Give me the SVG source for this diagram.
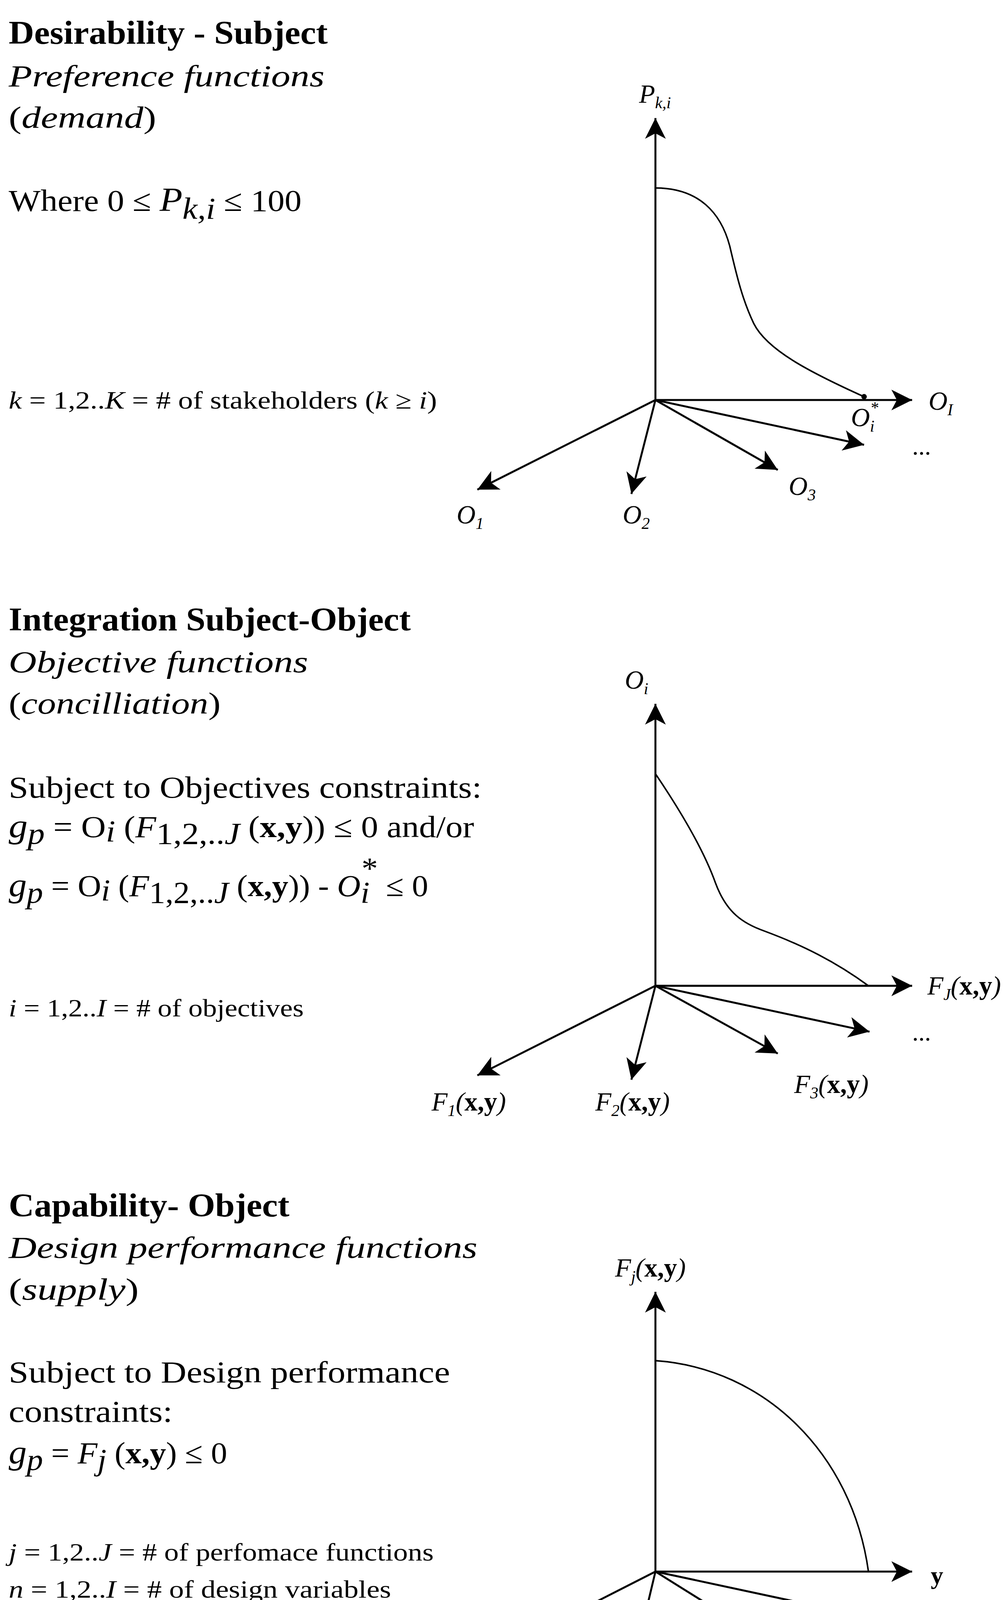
<svg xmlns="http://www.w3.org/2000/svg" width="2574" height="4386" viewBox="0 0 2574 4386">
<style>
text{font-family:"Liberation Serif","Times New Roman",serif;fill:#000}
.t{font-weight:bold;font-size:30px}
.m{font-size:28px}
.s{font-size:23px}
.l{font-size:24px;font-style:italic}
.i{font-style:italic}
.b{font-weight:bold;font-style:normal}
.ax{stroke:#000;stroke-width:1.8;fill:none;marker-end:url(#ah)}
.cv{stroke:#000;stroke-width:1.4;fill:none}
</style>
<defs>
<marker id="ah" markerWidth="22" markerHeight="22" viewBox="-20 -11 22 22" refX="0" refY="0" orient="auto" markerUnits="userSpaceOnUse">
<path d="M0,0 L-19,-9.5 L-14,0 L-19,9.5 z" fill="#000"/>
</marker>
</defs>
<rect width="2574" height="4386" fill="#fff"/>
<g transform="scale(2.7978)">
<g id="text1">
<text class="t" x="8" y="40" textLength="292" lengthAdjust="spacingAndGlyphs">Desirability - Subject</text>
<text class="m i" x="8" y="79" textLength="289" lengthAdjust="spacingAndGlyphs">Preference functions</text>
<text class="m" x="8" y="117" textLength="135" lengthAdjust="spacingAndGlyphs">(<tspan class="i">demand</tspan>)</text>
<text class="m" x="8" y="193" textLength="268" lengthAdjust="spacingAndGlyphs">Where 0 ≤ <tspan class="i" font-size="31">P</tspan><tspan class="i" dy="7">k,i</tspan><tspan dy="-7"> ≤ 100</tspan></text>
<text class="s" x="8" y="374" textLength="392" lengthAdjust="spacingAndGlyphs"><tspan class="i">k</tspan> = 1,2..<tspan class="i">K</tspan> = # of stakeholders (<tspan class="i">k</tspan> ≥ <tspan class="i">i</tspan>)</text>
</g>
<g id="graph1">
<path class="cv" d="M600,172 C640,172 660,195 668,225 C675,255 680,275 690,296 C702,320 740,340 791,363"/>
<circle cx="791" cy="363" r="2.5"/>
<text class="l" x="585" y="94">P<tspan font-size="15" dy="5">k,i</tspan></text>
<text class="l" x="850" y="375">O<tspan font-size="15" dy="5">I</tspan></text>
<text class="l" x="779" y="390">O<tspan font-size="15" dy="5">i</tspan><tspan font-size="15" dx="-4" dy="-17">*</tspan></text>
<text class="s" x="835" y="416">...</text>
<text class="l" x="722" y="453">O<tspan font-size="15" dy="5">3</tspan></text>
<text class="l" x="570" y="479">O<tspan font-size="15" dy="5">2</tspan></text>
<text class="l" x="418" y="479">O<tspan font-size="15" dy="5">1</tspan></text>
</g>
<g id="text2">
<text class="t" x="8" y="577" textLength="368" lengthAdjust="spacingAndGlyphs">Integration Subject-Object</text>
<text class="m i" x="8" y="615" textLength="274" lengthAdjust="spacingAndGlyphs">Objective functions</text>
<text class="m" x="8" y="653" textLength="194" lengthAdjust="spacingAndGlyphs">(<tspan class="i">concilliation</tspan>)</text>
<text class="m" x="8" y="730" textLength="433" lengthAdjust="spacingAndGlyphs">Subject to Objectives constraints:</text>
<text class="m" x="8" y="766" textLength="426" lengthAdjust="spacingAndGlyphs"><tspan class="i" font-size="31">g</tspan><tspan class="i" dy="6">p</tspan><tspan dy="-6"> = O</tspan><tspan class="i" dy="4">i</tspan><tspan dy="-4"> (</tspan><tspan class="i">F</tspan><tspan dy="6">1,2,..</tspan><tspan class="i">J</tspan><tspan dy="-6"> (</tspan><tspan font-weight="bold">x,y</tspan>))  ≤ 0 and/or</text>
<text class="m" x="8" y="820" textLength="384" lengthAdjust="spacingAndGlyphs"><tspan class="i" font-size="31">g</tspan><tspan class="i" dy="6">p</tspan><tspan dy="-6"> = O</tspan><tspan class="i" dy="4">i</tspan><tspan dy="-4"> (</tspan><tspan class="i">F</tspan><tspan dy="6">1,2,..</tspan><tspan class="i">J</tspan><tspan dy="-6"> (</tspan><tspan font-weight="bold">x,y</tspan>)) - <tspan class="i">O</tspan><tspan class="i" dy="6">i</tspan><tspan dx="-7" dy="-22">*</tspan><tspan dy="16"> ≤ 0</tspan></text>
<text class="s" x="8" y="930" textLength="270" lengthAdjust="spacingAndGlyphs"><tspan class="i">i</tspan> = 1,2..<tspan class="i">I</tspan> = # of objectives</text>
</g>
<g id="graph2">
<path class="cv" d="M600,708 C625,745 645,780 655,808 C665,835 680,845 700,852 C735,865 765,880 795,902"/>
<text class="l" x="572" y="630">O<tspan font-size="15" dy="5">i</tspan></text>
<text class="l" x="849" y="910">F<tspan font-size="15" dy="5">J</tspan><tspan dy="-5">(<tspan class="b">x,y</tspan>)</tspan></text>
<text class="s" x="835" y="952">...</text>
<text class="l" x="727" y="1000">F<tspan font-size="15" dy="5">3</tspan><tspan dy="-5">(<tspan class="b">x,y</tspan>)</tspan></text>
<text class="l" x="545" y="1016">F<tspan font-size="15" dy="5">2</tspan><tspan dy="-5">(<tspan class="b">x,y</tspan>)</tspan></text>
<text class="l" x="395" y="1016">F<tspan font-size="15" dy="5">1</tspan><tspan dy="-5">(<tspan class="b">x,y</tspan>)</tspan></text>
</g>
<g id="text3">
<text class="t" x="8" y="1113" textLength="257" lengthAdjust="spacingAndGlyphs">Capability- Object</text>
<text class="m i" x="8" y="1151" textLength="429" lengthAdjust="spacingAndGlyphs">Design performance functions</text>
<text class="m" x="8" y="1189" textLength="119" lengthAdjust="spacingAndGlyphs">(<tspan class="i">supply</tspan>)</text>
<text class="m" x="8" y="1265" textLength="404" lengthAdjust="spacingAndGlyphs">Subject to Design performance</text>
<text class="m" x="8" y="1301" textLength="150" lengthAdjust="spacingAndGlyphs">constraints:</text>
<text class="m" x="8" y="1339" textLength="200" lengthAdjust="spacingAndGlyphs"><tspan class="i" font-size="31">g</tspan><tspan class="i" dy="6">p</tspan><tspan dy="-6"> = </tspan><tspan class="i">F</tspan><tspan class="i" dy="6">j</tspan><tspan dy="-6"> (</tspan><tspan font-weight="bold">x,y</tspan>) ≤ 0</text>
<text class="s" x="8" y="1428" textLength="389" lengthAdjust="spacingAndGlyphs"><tspan class="i">j</tspan> = 1,2..<tspan class="i">J</tspan> = # of perfomace functions</text>
<text class="s" x="8" y="1462" textLength="350" lengthAdjust="spacingAndGlyphs"><tspan class="i">n</tspan> = 1,2..<tspan class="i">I</tspan> = # of design variables</text>
</g>
<g id="graph3">
<path class="cv" d="M600,1245 C700,1252 780,1330 795,1438"/>
<text class="l" x="563" y="1168">F<tspan font-size="15" dy="5">j</tspan><tspan dy="-5">(<tspan class="b">x,y</tspan>)</tspan></text>
<text class="s" x="852" y="1449" font-weight="bold">y</text>
<text class="l" x="830" y="1492">x<tspan font-size="15" dy="5">n</tspan></text>
<text class="s" x="752" y="1533">...</text>
<text class="l" x="572" y="1556">x<tspan font-size="15" dy="5">2</tspan></text>
<text class="l" x="420" y="1556">x<tspan font-size="15" dy="5">1</tspan></text>
</g>
<g id="connectors">
<line class="ax" x1="600" y1="366" x2="600" y2="108"/>
<line class="ax" x1="600" y1="366" x2="835" y2="366"/>
<line class="ax" x1="600" y1="366" x2="791" y2="407"/>
<line class="ax" x1="600" y1="366" x2="712" y2="430"/>
<line class="ax" x1="600" y1="366" x2="578" y2="452"/>
<line class="ax" x1="600" y1="366" x2="437" y2="448"/>
<line class="ax" x1="600" y1="902" x2="600" y2="644"/>
<line class="ax" x1="600" y1="902" x2="835" y2="902"/>
<line class="ax" x1="600" y1="902" x2="796" y2="944"/>
<line class="ax" x1="600" y1="902" x2="712" y2="964"/>
<line class="ax" x1="600" y1="902" x2="578" y2="988"/>
<line class="ax" x1="600" y1="902" x2="437" y2="984"/>
<line class="ax" x1="600" y1="1438" x2="600" y2="1182"/>
<line class="ax" x1="600" y1="1438" x2="835" y2="1438"/>
<line class="ax" x1="600" y1="1438" x2="796" y2="1480"/>
<line class="ax" x1="600" y1="1438" x2="712" y2="1508"/>
<line class="ax" x1="600" y1="1438" x2="580" y2="1522"/>
<line class="ax" x1="600" y1="1438" x2="437" y2="1521"/>
</g>
</g>
</svg>
